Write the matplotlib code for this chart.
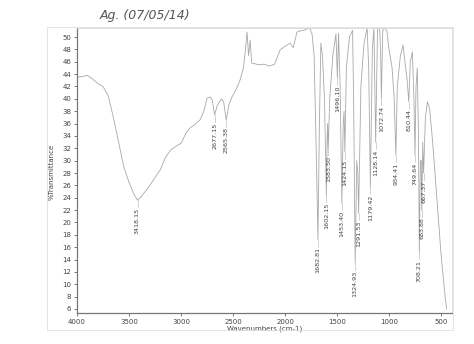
import matplotlib.pyplot as plt
from matplotlib.patches import Rectangle

# spectrum points (wavenumber, %T)
wavenumber = [4000, 3950, 3900, 3850, 3800, 3750, 3700, 3650, 3600, 3550, 3500, 3450,
              3418, 3380, 3300, 3200, 3150, 3100, 3050, 3000, 2950, 2913, 2870, 2817,
              2780, 2750, 2720, 2700, 2677, 2650, 2610, 2590, 2565, 2540, 2510, 2470,
              2433, 2400, 2380, 2365, 2350, 2335, 2320, 2250, 2200, 2150, 2100, 2048,
              2000, 1952, 1920, 1885, 1850, 1817, 1790, 1760, 1740, 1720, 1700, 1683,
              1670, 1655, 1640, 1620, 1602, 1595, 1590, 1584, 1570, 1540, 1510, 1496,
              1485, 1470, 1453, 1440, 1432, 1424, 1410, 1380, 1350, 1340, 1325, 1310,
              1300, 1292, 1270, 1240, 1210, 1195, 1179, 1160, 1145, 1128, 1110, 1090,
              1080, 1073, 1060, 1040, 1020, 1000, 970, 950, 934, 920, 890, 865, 840,
              825, 810, 795, 775, 760, 750, 740, 728, 717, 708, 698, 690, 684, 675,
              667, 650, 630, 610, 580, 540, 500, 460, 445]
transmittance = [43.5, 43.6, 43.8, 43.2, 42.5, 42.0, 40.5, 37.0, 33.0, 29.0, 26.5, 24.5,
                 23.6, 24.2, 26.0, 28.5, 30.5, 31.7, 32.3, 32.8, 34.5, 35.3, 35.8, 36.6,
                 38.0, 40.1, 40.3, 39.8, 37.4, 39.0, 40.0, 39.5, 36.6, 39.0, 40.3, 41.5,
                 43.0, 45.0, 48.0, 50.8, 47.0, 49.5, 45.8, 45.5, 45.6, 45.3, 45.6, 47.9,
                 48.5, 49.0, 48.3, 50.8, 51.0, 51.1, 51.3, 51.4, 50.5, 47.0, 32.0, 17.2,
                 35.0, 49.0, 47.0, 40.0, 24.4, 33.0, 36.0, 32.0, 40.0, 47.0, 50.5, 43.4,
                 50.6, 42.0, 23.1, 36.0, 38.0, 31.4, 45.0, 50.0, 51.1, 40.0, 13.4, 30.0,
                 28.0, 21.5, 42.0, 49.0, 51.5, 45.0, 25.7, 48.0, 51.5, 33.0, 51.5, 51.5,
                 47.0, 40.1, 51.0, 51.5, 51.0, 48.0, 45.0, 40.0, 30.9, 42.0, 47.0, 48.7,
                 45.0, 43.0, 39.5, 46.0, 47.6, 40.0, 30.9, 42.0, 45.0, 35.0, 15.2, 30.0,
                 30.0, 22.0, 33.0, 28.0, 37.0, 39.5, 38.5, 33.0, 24.0, 15.0, 8.0, 6.0]

# labelled peaks
peak_wn = [3418.15, 2677.15, 2565.38, 1682.81, 1602.15, 1583.50, 1496.10, 1453.40,
           1424.15, 1324.93, 1291.53, 1179.42, 1128.14, 1072.74, 934.41, 810.44,
           749.64, 708.21, 683.88, 667.37]
peak_t = [23.6, 37.4, 36.6, 17.2, 24.4, 32.0, 43.4, 23.1, 31.4, 13.4, 21.5, 25.7,
          33.0, 40.1, 30.9, 39.5, 30.9, 15.2, 22.0, 28.0]

fig = plt.figure(figsize=(4.74, 3.44), dpi=100)
ax = fig.add_axes([77/474, 1 - 313/344, 375/474, 285/344])

ax.plot(wavenumber, transmittance, color='#a8a8a8', lw=0.6)

for w, t in zip(peak_wn, peak_t):
    ax.plot([w, w], [t, t - 1.1], color='#b0b0b0', lw=0.4)
    ax.text(w, t - 1.2, '%.2f' % w, rotation=90, ha='center', va='top',
            fontsize=4.6, color='#444444')

ax.set_xlim(4000, 394)
ax.set_ylim(5.35, 51.46)
ax.set_xticks([4000, 3500, 3000, 2500, 2000, 1500, 1000, 500])
ax.set_yticks(range(6, 51, 2))
ax.tick_params(labelsize=5, colors='#444444', length=2, width=0.5, pad=2)
for s in ['top', 'right']:
    ax.spines[s].set_color('#d8d8d8')
    ax.spines[s].set_linewidth(0.6)
for s in ['left', 'bottom']:
    ax.spines[s].set_color('#777777')
    ax.spines[s].set_linewidth(0.9)

ax.set_xlabel('Wavenumbers (cm-1)', fontsize=5, color='#444444', labelpad=1)
fig.text(52/474, 0.5, '%Transmittance', rotation=90, fontsize=5, color='#444444',
         ha='center', va='center')

# outer frame of the printout
fig.patches.append(Rectangle((47/474, 1 - 330/344), 406/474, 303/344,
                             transform=fig.transFigure, fill=False,
                             edgecolor='#e0e0e0', lw=0.6))

fig.text(100/474, 1 - 16/344, 'Ag. (07/05/14)', fontsize=9, style='italic',
         color='#555555', va='center')

fig.savefig('out.png', dpi=100)
